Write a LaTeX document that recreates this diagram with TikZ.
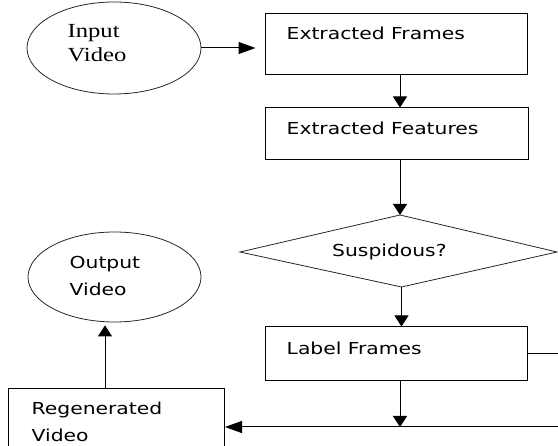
\documentclass[tikz,border=0pt]{standalone}
\usepackage{fontspec}
\usepackage{tikz}
\usetikzlibrary{
  arrows.meta,
  positioning,
  shapes.geometric
}
\newfontfamily\boxfont[FakeStretch=1.23]{DejaVu Sans}
\newfontfamily\ovalfont[FakeStretch=1.23]{Liberation Serif}

\begin{document}
\begin{tikzpicture}[x=1pt, y=-1pt,
    caixa/.style={draw, line width=1pt, inner sep=0pt},
    oval/.style={draw=black!85, ellipse, line width=0.8pt, inner sep=0pt},
    texto/.style={anchor=base west, inner sep=0pt, align=left,
      font=\boxfont\fontsize{16.5}{27}\selectfont},
    textoserif/.style={anchor=base west, inner sep=0pt, align=left,
      font=\ovalfont\fontsize{20}{24}\selectfont},
    linha/.style={line width=1pt},
    seta/.style={line width=1pt, -{Triangle[length=11pt,width=14pt]}},
    setah/.style={line width=1pt, -{Triangle[length=17pt,width=12pt]}}]

        % Recorte da figura
        \clip (0,0) rectangle (558,446);

        % Colunas das setas
        \coordinate (col) at (400,0);
        \coordinate (colesq) at (105,0);

        % Elipse de entrada (texto ancorado na ultima linha)
        \node[oval, minimum width=174pt, minimum height=92pt] (input) at (114,48) {};
        \node[textoserif] (inputtxt) at (67.5,62) {Input\\Video};

        % Caixas do fluxo
        \node[caixa, minimum width=262pt, minimum height=61pt] (frames) at (396,44.5) {};
        \node[texto] (framestxt) at (286.5,40) {Extracted Frames};

        \node[caixa, minimum width=263pt, minimum height=52pt] (features) at (396.5,134) {};
        \node[texto] (featurestxt) at (286.5,135) {Extracted Features};

        % Losango de decisao
        \coordinate (dtop) at (400,215);
        \coordinate (dright) at (557,252);
        \coordinate (dbot) at (401.5,287);
        \coordinate (dleft) at (240,252);
        \draw[line width=0.8pt, black!85] (dtop) -- (dright) -- (dbot) -- (dleft) -- cycle;
        \node[texto] (suspecttxt) at (332,256.5) {Suspidous?};

        \node[caixa, minimum width=262pt, minimum height=54pt] (labelbox) at (396,354) {};
        \node[texto] (labeltxt) at (286.5,355) {Label Frames};

        % Elipse de saida
        \node[oval, minimum width=173pt, minimum height=90pt] (output) at (114.5,277) {};
        \node[texto] (outputtxt) at (69.5,296) {Output\\Video};

        % Caixa do video regenerado
        \node[caixa, minimum width=216pt, minimum height=91pt] (regen) at (116.5,434.5) {};
        \node[texto] (regentxt) at (31.5,442) {Regenerated\\Video};

        % Pontos fora da figura
        \coordinate (fora1) at (575,354);
        \coordinate (fora2) at (575,427);
        \coordinate (junct) at (400,427);

        % Setas
        \draw[setah, shorten >=9pt] (input.east) -- (input.east -| frames.west);
        \draw[seta] (frames.south -| col) -- (features.north -| col);
        \draw[seta] (features.south -| col) -- (dtop);
        \draw[seta] (dbot) -- (labelbox.north -| dbot);
        \draw[seta] (labelbox.south -| col) -- (junct);
        \draw[linha] (labelbox.east) -- (fora1);
        \draw[setah] (fora2) -- (fora2 -| regen.east);
        \draw[seta] (regen.north -| colesq) -- ([yshift=-3pt]output.south -| colesq);
    \end{tikzpicture}
\end{document}
